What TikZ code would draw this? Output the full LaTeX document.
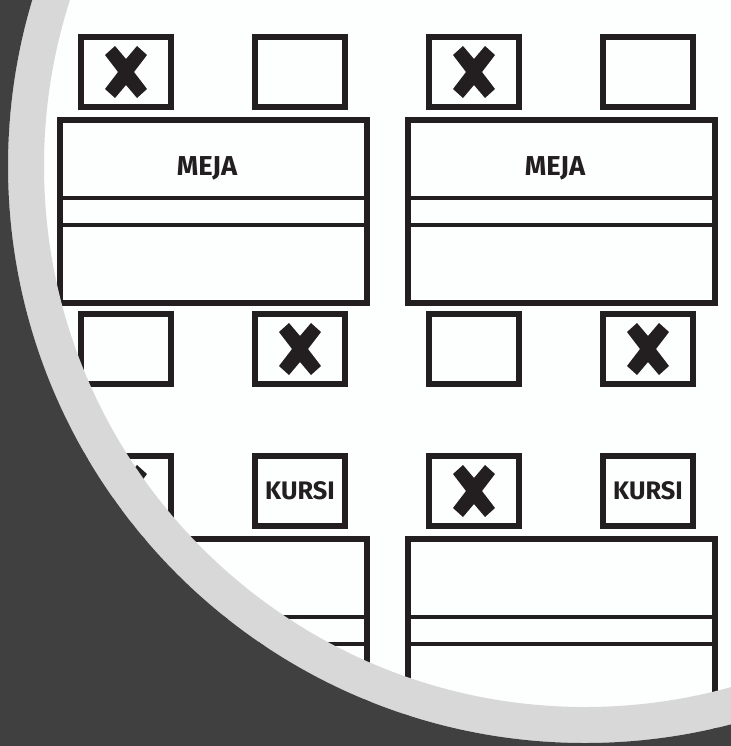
\documentclass[tikz,border=0pt]{standalone}
\usepackage{fontspec}
\setmainfont{Fira Sans}
\definecolor{ink}{HTML}{231F20}
\definecolor{slate}{HTML}{404040}
\definecolor{ringgray}{HTML}{D8D8D8}
\definecolor{paper}{HTML}{FDFEFE}
\tikzset{
  chair/.style={draw=ink,line width=4.5pt,minimum width=67.5pt,minimum height=52.5pt,inner sep=0pt,text=ink,font=\fontsize{19}{21}\selectfont\bfseries},
  tabletop/.style={draw=ink,line width=4.5pt,minimum width=230.25pt,inner sep=0pt},
  tableline/.style={draw=ink,line width=3pt},
  tablelabel/.style={text=ink,inner sep=0pt,font=\fontsize{20.5}{23}\selectfont\bfseries},
  crossmark/.pic={\fill[ink] (-21,-17)--(-11,-26)--(0,-13)--(11,-26)--(21,-17)--(8,0)--(21,17)--(11,26)--(0,13)--(-11,26)--(-21,17)--(-8,0)--cycle;}
}
\begin{document}
\begin{tikzpicture}[x=0.75pt,y=-0.75pt]
\useasboundingbox (0,0) rectangle (731,746);
\fill[paper] (0,0) rectangle (731,746);
% top row, left
\node[chair] (c1) at (126,72) {};
\node[chair] (c2) at (300,72) {};
\node[chair] (c3) at (126,349) {};
\node[chair] (c4) at (300,349) {};
\node[tabletop,minimum height=137.25pt] (t1) at (213.5,211.5) {};
\node[tablelabel] (l1) at (207,168) {MEJA};
\coordinate (t1a) at (0,198); \coordinate (t1b) at (0,225);
\draw[tableline] (t1.west|-t1a) -- (t1.east|-t1a);
\draw[tableline] (t1.west|-t1b) -- (t1.east|-t1b);
\pic at (c1) {crossmark};
\pic at (c4) {crossmark};
% top row, right
\node[chair] (c5) at (474,72) {};
\node[chair] (c6) at (648,72) {};
\node[chair] (c7) at (474,349) {};
\node[chair] (c8) at (648,349) {};
\node[tabletop,minimum height=137.25pt] (t2) at (561,211.5) {};
\node[tablelabel] (l2) at (555,168) {MEJA};
\draw[tableline] (t2.west|-t1a) -- (t2.east|-t1a);
\draw[tableline] (t2.west|-t1b) -- (t2.east|-t1b);
\pic at (c5) {crossmark};
\pic at (c8) {crossmark};
% bottom row, left
\node[chair] (c9) at (126,491) {};
\node[chair] (c10) at (300,491) {KURSI};
\node[tabletop,minimum height=165pt] (t3) at (213.5,649) {};
\coordinate (t3a) at (0,617); \coordinate (t3b) at (0,644);
\draw[tableline] (t3.west|-t3a) -- (t3.east|-t3a);
\draw[tableline] (t3.west|-t3b) -- (t3.east|-t3b);
\pic at (c9) {crossmark};
% bottom row, right
\node[chair] (c11) at (474,491) {};
\node[chair] (c12) at (648,491) {KURSI};
\node[tabletop,minimum height=165pt] (t4) at (561,649) {};
\draw[tableline] (t4.west|-t3a) -- (t4.east|-t3a);
\draw[tableline] (t4.west|-t3b) -- (t4.east|-t3b);
\pic at (c11) {crossmark};
% slide frame
\begin{scope}
\clip (0,0) rectangle (731,746);
\fill[ringgray,even odd rule] (585,166) circle[radius=577] (585,166) circle[radius=541];
\fill[slate,even odd rule] (-10,-10) rectangle (741,756) (585,166) circle[radius=577];
\end{scope}
\end{tikzpicture}
\end{document}
